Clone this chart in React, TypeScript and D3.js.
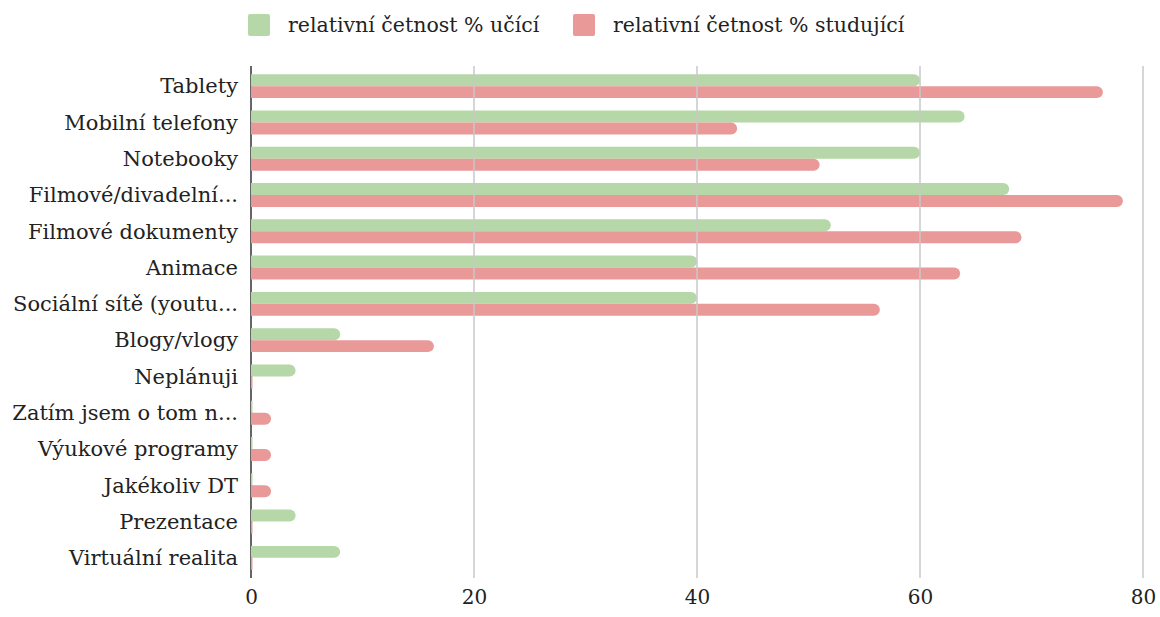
import React, { useEffect, useRef } from 'react';
import { axisBottom, scaleBand, scaleLinear, select } from 'd3';

const categories = [
  'Tablety',
  'Mobilní telefony',
  'Notebooky',
  'Filmové/divadelní...',
  'Filmové dokumenty',
  'Animace',
  'Sociální sítě (youtu...',
  'Blogy/vlogy',
  'Neplánuji',
  'Zatím jsem o tom n...',
  'Výukové programy',
  'Jakékoliv DT',
  'Prezentace',
  'Virtuální realita',
];

const ucici = [60, 64, 60, 68, 52, 40, 40, 8, 4, 0, 0, 0, 4, 8];
const studujici = [76.4, 43.6, 51, 78.2, 69.1, 63.6, 56.4, 16.4, 0, 1.8, 1.8, 1.8, 0, 0];

const seriesNames = ['relativní četnost % učící', 'relativní četnost % studující'];
const seriesColors = ['#b6d7a8', '#ea9999'];
const xTicks = [0, 20, 40, 60, 80];

const FONT = '"DejaVu Serif", Georgia, serif';

// bar with rounded right end only
const barPath = (x0: number, y: number, w: number, h: number) => {
  const r = Math.min(h / 2, w);
  if (w < 1.5) return `M${x0},${y}h1.5v${h}h-1.5Z`;
  return `M${x0},${y}h${w - r}a${r},${r} 0 0 1 ${r},${r}v${h - 2 * r}a${r},${r} 0 0 1 ${-r},${r}h${-(w - r)}Z`;
};

const Chart = () => {
  const ref = useRef<SVGSVGElement | null>(null);

  useEffect(() => {
    document.body.style.margin = '0';
    document.body.style.overflow = 'hidden';

    const svg = select(ref.current);
    svg.selectAll('*').remove();

    const width = 1160;
    const height = 617;
    const margin = { top: 68, right: 17, bottom: 41, left: 251 };

    const x = scaleLinear().domain([0, 80]).range([margin.left, width - margin.right]);
    const y = scaleBand<string>()
      .domain(categories)
      .range([margin.top, height - margin.bottom])
      .paddingInner(0.34)
      .paddingOuter(0.17);
    const sub = scaleBand<number>().domain([0, 1]).range([0, y.bandwidth()]);

    svg.attr('width', width).attr('height', height).style('font-family', FONT);

    // zero axis line (bars drawn over it)
    svg
      .append('line')
      .attr('x1', x(0))
      .attr('x2', x(0))
      .attr('y1', margin.top - 2)
      .attr('y2', height - margin.bottom + 2)
      .attr('stroke', '#333')
      .attr('stroke-width', 1.5);

    const series = [ucici, studujici];
    series.forEach((vals, si) => {
      svg
        .append('g')
        .selectAll('path')
        .data(vals)
        .enter()
        .append('path')
        .attr('d', (d, i) =>
          barPath(x(0), (y(categories[i]) ?? 0) + (sub(si) ?? 0), x(d) - x(0), sub.bandwidth())
        )
        .attr('fill', seriesColors[si]);
    });

    // gridlines on top
    svg
      .append('g')
      .selectAll('line')
      .data(xTicks.slice(1))
      .enter()
      .append('line')
      .attr('x1', (d) => x(d))
      .attr('x2', (d) => x(d))
      .attr('y1', margin.top - 2)
      .attr('y2', height - margin.bottom + 2)
      .attr('stroke', '#c8c8c8')
      .attr('stroke-width', 1.5);

    // x axis labels
    const ax = svg
      .append('g')
      .attr('transform', `translate(0,${height - margin.bottom + 2})`)
      .call(axisBottom(x).tickValues(xTicks).tickSize(0).tickPadding(12));
    ax.select('.domain').remove();
    ax.selectAll('text').style('font-family', FONT).style('font-size', '20px').attr('fill', '#222');

    // category labels
    svg
      .append('g')
      .selectAll('text')
      .data(categories)
      .enter()
      .append('text')
      .attr('x', x(0) - 13)
      .attr('y', (d) => (y(d) ?? 0) + y.bandwidth() / 2)
      .attr('dy', '0.35em')
      .attr('text-anchor', 'end')
      .style('font-size', '21px')
      .attr('fill', '#222')
      .text((d) => d);

    // legend
    const legendX = [248, 573];
    const lg = svg.append('g');
    seriesNames.forEach((name, i) => {
      lg.append('rect')
        .attr('x', legendX[i])
        .attr('y', 14)
        .attr('width', 22)
        .attr('height', 22)
        .attr('rx', 2)
        .attr('fill', seriesColors[i]);
      lg.append('text')
        .attr('x', legendX[i] + 40)
        .attr('y', 25)
        .attr('dy', '0.35em')
        .style('font-size', '20.5px')
        .attr('fill', '#222')
        .text(name);
    });
  }, []);

  return <svg ref={ref} style={{ display: 'block' }} />;
};

export default function App() {
  return (
    <div style={{ background: '#fff', width: 1160, height: 617 }}>
      <Chart />
    </div>
  );
}
